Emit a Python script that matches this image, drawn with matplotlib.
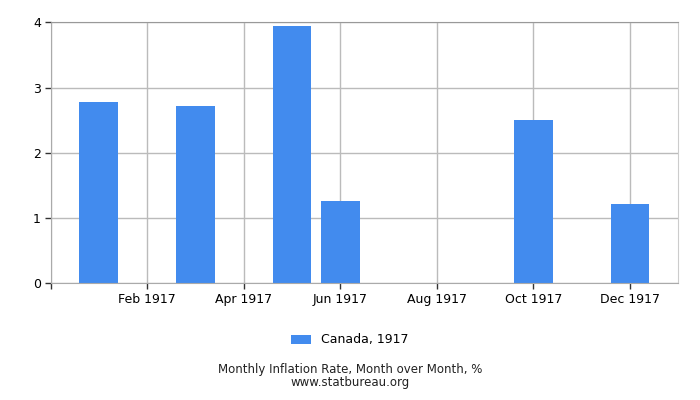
import matplotlib
matplotlib.use("Agg")
import matplotlib.pyplot as plt

# monthly inflation, Canada 1917 (month over month, %)
months = ["Jan", "Feb", "Mar", "Apr", "May", "Jun",
          "Jul", "Aug", "Sep", "Oct", "Nov", "Dec"]
rates = [2.78, 0.0, 2.71, 0.0, 3.95, 1.26,
         0.0, 0.0, 0.0, 2.51, 0.0, 1.22]
tick_months = [1, 3, 5, 7, 9, 11]
tick_labels = ["Feb 1917", "Apr 1917", "Jun 1917",
               "Aug 1917", "Oct 1917", "Dec 1917"]
y_ticks = [0, 1, 2, 3, 4]

bar_color = "#428bee"
grid_color = "#bbbbbb"

fig = plt.figure(figsize=(7, 4), dpi=100)
ax = fig.add_axes([50.5 / 700, 1 - 283.3 / 400, 627.8 / 700, 261 / 400])

x = list(range(len(months)))
ax.bar(x, rates, width=0.8, color=bar_color, zorder=2, label="Canada, 1917")

ax.set_xlim(-1, 12)
ax.set_ylim(0, 4)
ax.set_xticks([-1] + tick_months)
ax.set_xticklabels([""] + tick_labels, fontsize=9)
ax.set_yticks(y_ticks)
ax.set_yticklabels([str(v) for v in y_ticks], fontsize=9)
ax.tick_params(axis="both", length=4, width=1, color="#333333", pad=3)

ax.grid(True, color=grid_color, linewidth=1, zorder=0)
ax.set_axisbelow(True)
for side in ["top", "bottom", "left"]:
    ax.spines[side].set_color("#aaaaaa")
ax.spines["right"].set_color("#cccccc")
ax.spines["top"].set_color("#999999")

fig.legend(loc="center", bbox_to_anchor=(0.5, 1 - 340 / 400), frameon=False,
           fontsize=9, handlelength=1.6, handleheight=0.7)
fig.text(0.5, 1 - 376 / 400,
         "Monthly Inflation Rate, Month over Month, %\nwww.statbureau.org",
         ha="center", va="center", fontsize=8.5, color="#222222",
         linespacing=0.95)

fig.savefig("out.png", dpi=100)
